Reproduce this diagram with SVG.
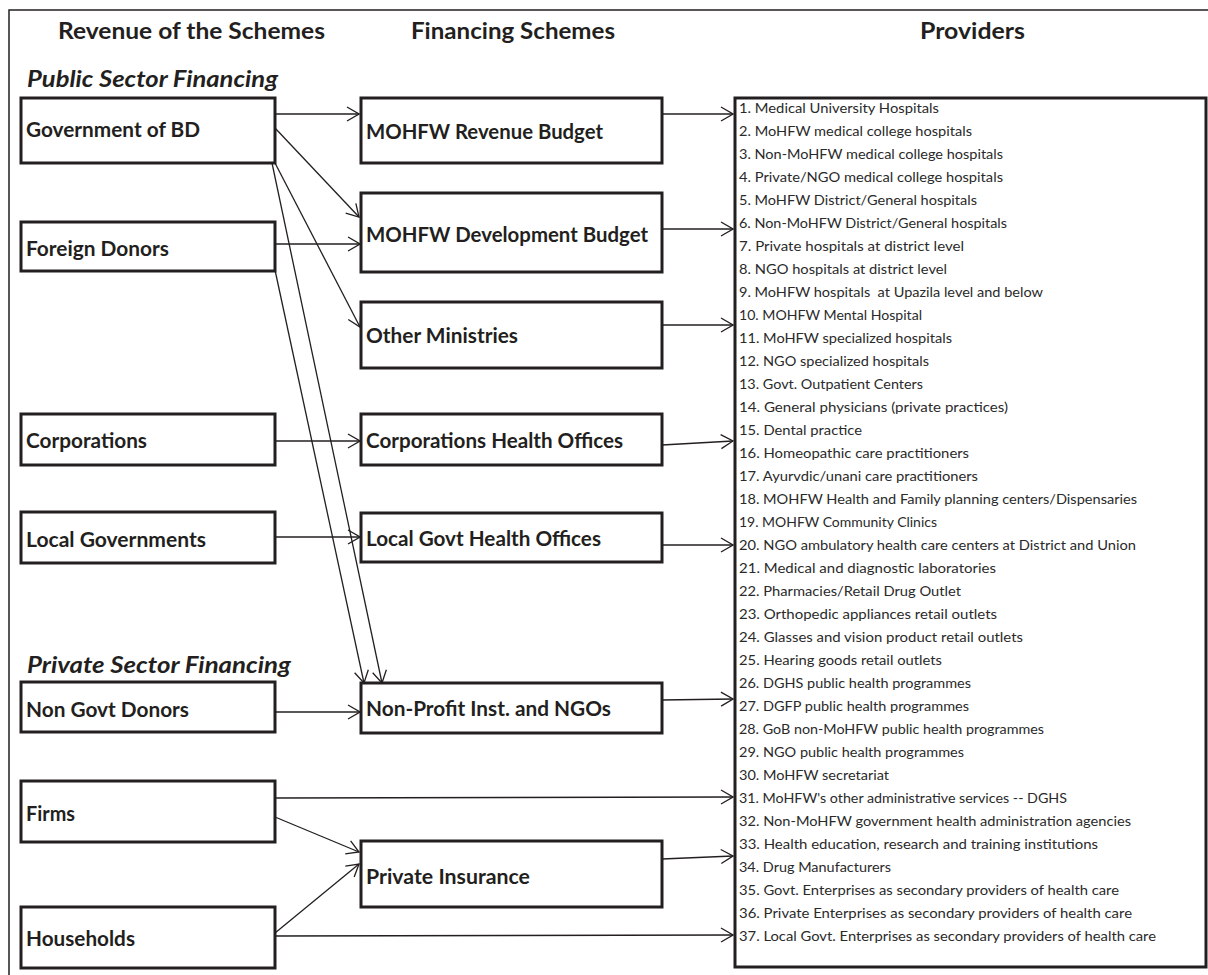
<svg xmlns="http://www.w3.org/2000/svg" width="1208" height="975" viewBox="0 0 1208 975">
<defs>
<style>
.bx{fill:#fff;stroke:#231f20;stroke-width:3}
.ln{fill:none;stroke:#231f20;stroke-width:1.3}
.lb{font-family:Lato,"Liberation Sans",sans-serif;font-weight:bold;font-size:20px;fill:#231f20}
.hd{font-family:Lato,"Liberation Sans",sans-serif;font-weight:bold;font-size:22px;fill:#231f20}
.sec{font-family:Lato,"Liberation Sans",sans-serif;font-weight:bold;font-style:italic;font-size:22px;fill:#231f20}
.pv{font-family:Lato,"Liberation Sans",sans-serif;font-size:14px;fill:#2a2a2a}
</style>
<marker id="ar" markerWidth="14" markerHeight="16" refX="13" refY="8" orient="auto" markerUnits="userSpaceOnUse">
<path d="M1,1 L13,8 L1,15" fill="none" stroke="#231f20" stroke-width="1.3"/>
</marker>
</defs>
<rect width="1208" height="975" fill="#fff"/>
<path d="M1208,10 H9 V975" fill="none" stroke="#231f20" stroke-width="1.5"/>

<g id="headers">
<text class="hd" x="58" y="39" textLength="267" lengthAdjust="spacingAndGlyphs">Revenue of the Schemes</text>
<text class="hd" x="411" y="39" textLength="204" lengthAdjust="spacingAndGlyphs">Financing Schemes</text>
<text class="hd" x="920" y="39" textLength="105" lengthAdjust="spacingAndGlyphs">Providers</text>
<text class="sec" x="27" y="87" textLength="251" lengthAdjust="spacingAndGlyphs">Public Sector Financing</text>
<text class="sec" x="27" y="673" textLength="264" lengthAdjust="spacingAndGlyphs">Private Sector Financing</text>
</g>

<g id="connectors">
<line class="ln" x1="272" y1="114" x2="359" y2="114" marker-end="url(#ar)"/>
<line class="ln" x1="275" y1="128" x2="359" y2="217" marker-end="url(#ar)"/>
<line class="ln" x1="275" y1="163" x2="360" y2="327" marker-end="url(#ar)"/>
<line class="ln" x1="272" y1="163" x2="382" y2="683" marker-end="url(#ar)"/>
<line class="ln" x1="275" y1="270" x2="364" y2="683" marker-end="url(#ar)"/>
<line class="ln" x1="275" y1="244" x2="360" y2="244" marker-end="url(#ar)"/>
<line class="ln" x1="275" y1="441" x2="360" y2="441" marker-end="url(#ar)"/>
<line class="ln" x1="275" y1="537" x2="360" y2="537" marker-end="url(#ar)"/>
<line class="ln" x1="275" y1="712" x2="360" y2="712" marker-end="url(#ar)"/>
<line class="ln" x1="275" y1="798" x2="733" y2="797" marker-end="url(#ar)"/>
<line class="ln" x1="275" y1="817" x2="359" y2="852" marker-end="url(#ar)"/>
<line class="ln" x1="275" y1="933" x2="359" y2="864" marker-end="url(#ar)"/>
<line class="ln" x1="275" y1="936" x2="733" y2="935" marker-end="url(#ar)"/>
<line class="ln" x1="662" y1="114" x2="733" y2="114" marker-end="url(#ar)"/>
<line class="ln" x1="662" y1="229" x2="733" y2="229" marker-end="url(#ar)"/>
<line class="ln" x1="662" y1="325" x2="733" y2="325" marker-end="url(#ar)"/>
<line class="ln" x1="662" y1="445" x2="733" y2="441" marker-end="url(#ar)"/>
<line class="ln" x1="662" y1="545" x2="733" y2="545" marker-end="url(#ar)"/>
<line class="ln" x1="662" y1="700" x2="733" y2="699" marker-end="url(#ar)"/>
<line class="ln" x1="662" y1="859" x2="733" y2="856" marker-end="url(#ar)"/>
</g>

<g id="gov-bd"><rect class="bx" x="21" y="98" width="254" height="65"/><text class="lb" x="26" y="137" textLength="174" lengthAdjust="spacingAndGlyphs">Government of BD</text></g>
<g id="foreign-donors"><rect class="bx" x="21" y="222" width="254" height="49"/><text class="lb" x="26" y="256" textLength="143" lengthAdjust="spacingAndGlyphs">Foreign Donors</text></g>
<g id="corporations"><rect class="bx" x="21" y="414" width="254" height="51"/><text class="lb" x="26" y="448" textLength="121" lengthAdjust="spacingAndGlyphs">Corporations</text></g>
<g id="local-governments"><rect class="bx" x="21" y="512" width="254" height="51"/><text class="lb" x="26" y="547" textLength="180" lengthAdjust="spacingAndGlyphs">Local Governments</text></g>
<g id="non-govt-donors"><rect class="bx" x="21" y="682" width="254" height="50"/><text class="lb" x="26" y="717" textLength="163" lengthAdjust="spacingAndGlyphs">Non Govt Donors</text></g>
<g id="firms"><rect class="bx" x="21" y="781" width="254" height="61"/><text class="lb" x="26" y="821" textLength="49" lengthAdjust="spacingAndGlyphs">Firms</text></g>
<g id="households"><rect class="bx" x="21" y="907" width="254" height="61"/><text class="lb" x="26" y="946" textLength="109" lengthAdjust="spacingAndGlyphs">Households</text></g>

<g id="mohfw-revenue"><rect class="bx" x="361" y="98" width="301" height="65"/><text class="lb" x="366" y="139" textLength="237" lengthAdjust="spacingAndGlyphs">MOHFW Revenue Budget</text></g>
<g id="mohfw-development"><rect class="bx" x="361" y="193" width="301" height="79"/><text class="lb" x="366" y="242" textLength="282" lengthAdjust="spacingAndGlyphs">MOHFW Development Budget</text></g>
<g id="other-ministries"><rect class="bx" x="361" y="302" width="301" height="66"/><text class="lb" x="366" y="343" textLength="152" lengthAdjust="spacingAndGlyphs">Other Ministries</text></g>
<g id="corp-health"><rect class="bx" x="361" y="414" width="301" height="51"/><text class="lb" x="366" y="448" textLength="257" lengthAdjust="spacingAndGlyphs">Corporations Health Offices</text></g>
<g id="local-govt-health"><rect class="bx" x="361" y="513" width="301" height="49"/><text class="lb" x="366" y="546" textLength="235" lengthAdjust="spacingAndGlyphs">Local Govt Health Offices</text></g>
<g id="non-profit"><rect class="bx" x="361" y="683" width="301" height="50"/><text class="lb" x="366" y="716" textLength="245" lengthAdjust="spacingAndGlyphs">Non-Profit Inst. and NGOs</text></g>
<g id="private-insurance"><rect class="bx" x="361" y="841" width="301" height="66"/><text class="lb" x="366" y="884" textLength="164" lengthAdjust="spacingAndGlyphs">Private Insurance</text></g>

<g id="providers">
<rect class="bx" x="735" y="98" width="471" height="869"/>
<text class="pv" x="739" y="113" textLength="200" lengthAdjust="spacingAndGlyphs">1. Medical University Hospitals</text>
<text class="pv" x="739" y="136" textLength="233" lengthAdjust="spacingAndGlyphs">2. MoHFW medical college hospitals</text>
<text class="pv" x="739" y="159" textLength="264" lengthAdjust="spacingAndGlyphs">3. Non-MoHFW medical college hospitals</text>
<text class="pv" x="739" y="182" textLength="264" lengthAdjust="spacingAndGlyphs">4. Private/NGO medical college hospitals</text>
<text class="pv" x="739" y="205" textLength="238" lengthAdjust="spacingAndGlyphs">5. MoHFW District/General hospitals</text>
<text class="pv" x="739" y="228" textLength="268" lengthAdjust="spacingAndGlyphs">6. Non-MoHFW District/General hospitals</text>
<text class="pv" x="739" y="251" textLength="225" lengthAdjust="spacingAndGlyphs">7. Private hospitals at district level</text>
<text class="pv" x="739" y="274" textLength="208" lengthAdjust="spacingAndGlyphs">8. NGO hospitals at district level</text>
<text class="pv" x="739" y="297" textLength="304" lengthAdjust="spacingAndGlyphs" xml:space="preserve">9. MoHFW hospitals  at Upazila level and below</text>
<text class="pv" x="739" y="320" textLength="183" lengthAdjust="spacingAndGlyphs">10. MOHFW Mental Hospital</text>
<text class="pv" x="739" y="343" textLength="213" lengthAdjust="spacingAndGlyphs">11. MoHFW specialized hospitals</text>
<text class="pv" x="739" y="366" textLength="190" lengthAdjust="spacingAndGlyphs">12. NGO specialized hospitals</text>
<text class="pv" x="739" y="389" textLength="184" lengthAdjust="spacingAndGlyphs">13. Govt. Outpatient Centers</text>
<text class="pv" x="739" y="412" textLength="269" lengthAdjust="spacingAndGlyphs">14. General physicians (private practices)</text>
<text class="pv" x="739" y="435" textLength="123" lengthAdjust="spacingAndGlyphs">15. Dental practice</text>
<text class="pv" x="739" y="458" textLength="230" lengthAdjust="spacingAndGlyphs">16. Homeopathic care practitioners</text>
<text class="pv" x="739" y="481" textLength="239" lengthAdjust="spacingAndGlyphs">17. Ayurvdic/unani care practitioners</text>
<text class="pv" x="739" y="504" textLength="398" lengthAdjust="spacingAndGlyphs">18. MOHFW Health and Family planning centers/Dispensaries</text>
<text class="pv" x="739" y="527" textLength="198" lengthAdjust="spacingAndGlyphs">19. MOHFW Community Clinics</text>
<text class="pv" x="739" y="550" textLength="397" lengthAdjust="spacingAndGlyphs">20. NGO ambulatory health care centers at District and Union</text>
<text class="pv" x="739" y="573" textLength="257" lengthAdjust="spacingAndGlyphs">21. Medical and diagnostic laboratories</text>
<text class="pv" x="739" y="596" textLength="222" lengthAdjust="spacingAndGlyphs">22. Pharmacies/Retail Drug Outlet</text>
<text class="pv" x="739" y="619" textLength="258" lengthAdjust="spacingAndGlyphs">23. Orthopedic appliances retail outlets</text>
<text class="pv" x="739" y="642" textLength="284" lengthAdjust="spacingAndGlyphs">24. Glasses and vision product retail outlets</text>
<text class="pv" x="739" y="665" textLength="203" lengthAdjust="spacingAndGlyphs">25. Hearing goods retail outlets</text>
<text class="pv" x="739" y="688" textLength="232" lengthAdjust="spacingAndGlyphs">26. DGHS public health programmes</text>
<text class="pv" x="739" y="711" textLength="230" lengthAdjust="spacingAndGlyphs">27. DGFP public health programmes</text>
<text class="pv" x="739" y="734" textLength="305" lengthAdjust="spacingAndGlyphs">28. GoB non-MoHFW public health programmes</text>
<text class="pv" x="739" y="757" textLength="225" lengthAdjust="spacingAndGlyphs">29. NGO public health programmes</text>
<text class="pv" x="739" y="780" textLength="150" lengthAdjust="spacingAndGlyphs">30. MoHFW secretariat</text>
<text class="pv" x="739" y="803" textLength="328" lengthAdjust="spacingAndGlyphs">31. MoHFW's other administrative services -- DGHS</text>
<text class="pv" x="739" y="826" textLength="392" lengthAdjust="spacingAndGlyphs">32. Non-MoHFW government health administration agencies</text>
<text class="pv" x="739" y="849" textLength="359" lengthAdjust="spacingAndGlyphs">33. Health education, research and training institutions</text>
<text class="pv" x="739" y="872" textLength="152" lengthAdjust="spacingAndGlyphs">34. Drug Manufacturers</text>
<text class="pv" x="739" y="895" textLength="380" lengthAdjust="spacingAndGlyphs">35. Govt. Enterprises as secondary providers of health care</text>
<text class="pv" x="739" y="918" textLength="393" lengthAdjust="spacingAndGlyphs">36. Private Enterprises as secondary providers of health care</text>
<text class="pv" x="739" y="941" textLength="417" lengthAdjust="spacingAndGlyphs">37. Local Govt. Enterprises as secondary providers of health care</text>
</g>
</svg>
